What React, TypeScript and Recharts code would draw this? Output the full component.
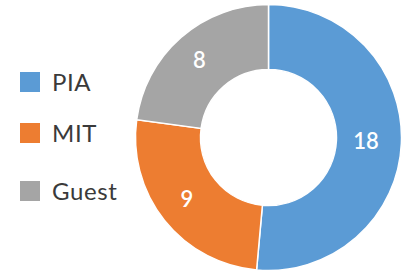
import { PieChart, Pie, Cell, Legend } from "recharts";

const categories = ["PIA", "MIT", "Guest"];
const counts = [18, 9, 8];
const colors = ["#5B9BD5", "#ED7D31", "#A5A5A5"];

const data = categories.map((name, i) => ({ name, value: counts[i], fill: colors[i] }));

// vertical offsets of the legend rows (the source spaces them unevenly)
const legendTops = [72, 123, 181];

const RADIAN = Math.PI / 180;

function renderLabel(props: any) {
  const { cx, cy, midAngle, innerRadius, outerRadius, value } = props;
  const r = (innerRadius + outerRadius) / 2;
  const x = cx + r * Math.cos(-midAngle * RADIAN);
  const y = cy + r * Math.sin(-midAngle * RADIAN);
  return (
    <text
      x={x - 3}
      y={y - 2}
      fill="#ffffff"
      fontSize={22}
      fontWeight={600}
      fontFamily="Lato, sans-serif"
      textAnchor="middle"
      dominantBaseline="central"
    >
      {value}
    </text>
  );
}

function LegendBox() {
  return (
    <div style={{ position: "relative", width: 130, height: 272 }}>
      {data.map((d, i) => (
        <div
          key={d.name}
          style={{
            position: "absolute",
            left: 20,
            top: legendTops[i],
            display: "flex",
            alignItems: "center",
            height: 20,
          }}
        >
          <span style={{ width: 20, height: 20, background: d.fill, display: "inline-block" }} />
          <span
            style={{
              marginLeft: 12,
              fontSize: 24,
              letterSpacing: 0.6,
              color: "#3a3a3a",
              fontFamily: "Lato, sans-serif",
              lineHeight: "20px",
            }}
          >
            {d.name}
          </span>
        </div>
      ))}
    </div>
  );
}

export default function App() {
  return (
    <div style={{ position: "absolute", left: 0, top: 0, width: 405, height: 272, background: "#fff" }}>
      <PieChart width={405} height={272} margin={{ top: 0, right: 0, bottom: 0, left: 0 }}>
        <Pie
          data={data}
          dataKey="value"
          nameKey="name"
          cx={268.5}
          cy={137.5}
          innerRadius={68}
          outerRadius={133}
          startAngle={90}
          endAngle={-270}
          stroke="#ffffff"
          strokeWidth={1.5}
          label={renderLabel}
          labelLine={false}
          isAnimationActive={false}
        >
          {data.map((d) => (
            <Cell key={d.name} fill={d.fill} />
          ))}
        </Pie>
        <Legend
          layout="vertical"
          content={() => <LegendBox />}
          wrapperStyle={{ left: 0, top: 0, width: 130, height: 272 }}
        />
      </PieChart>
    </div>
  );
}
